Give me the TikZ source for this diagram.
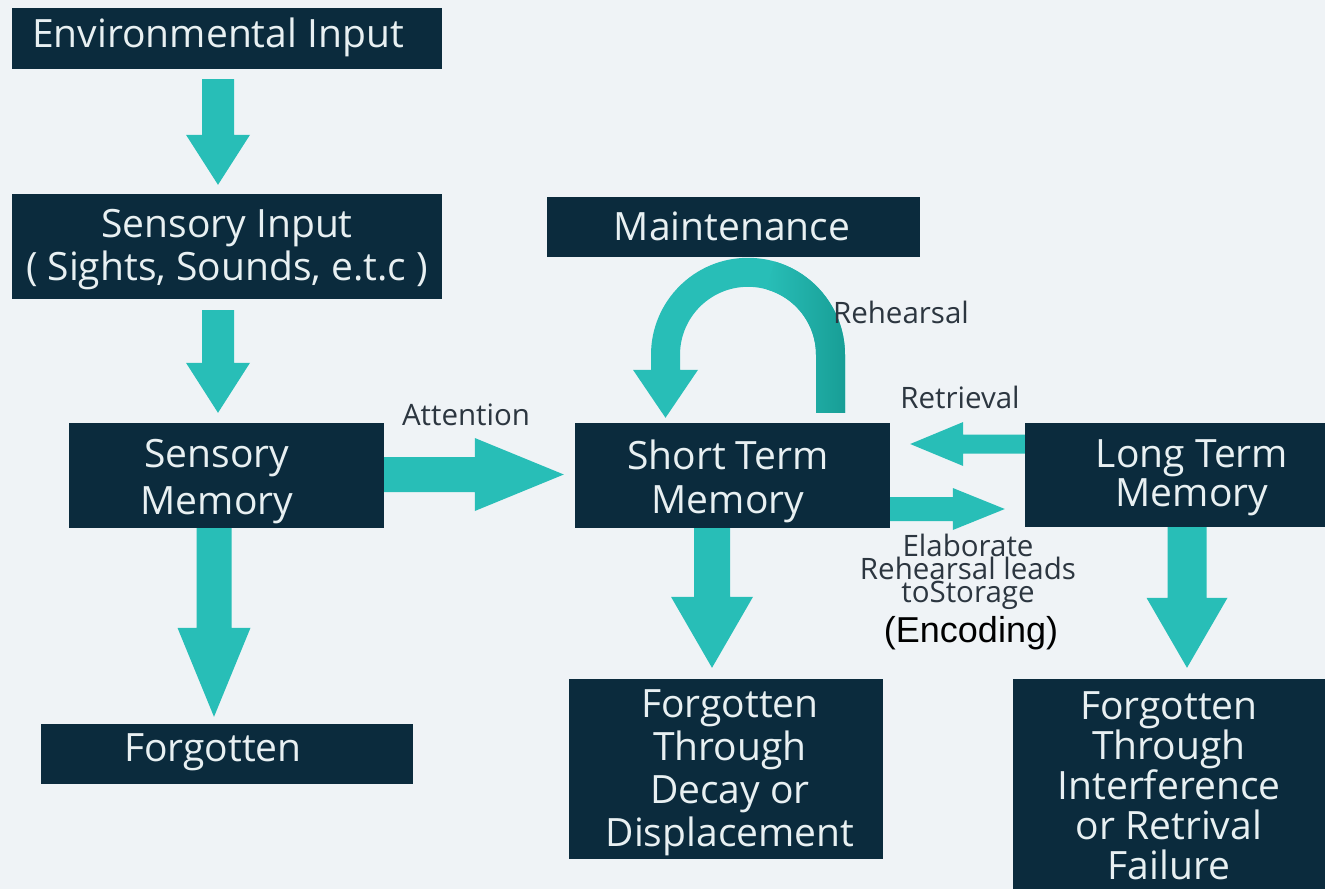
\documentclass[tikz,border=0pt]{standalone}
\usepackage{fontspec}
\setmainfont{Open Sans}
\newfontfamily\arialfont{Liberation Sans}
\usetikzlibrary{calc}

\definecolor{bgc}{RGB}{239,243,246}
\definecolor{navy}{RGB}{11,43,61}
\definecolor{teal1}{RGB}{40,190,183}
\definecolor{teal2}{RGB}{24,158,150}
\definecolor{boxtxt}{RGB}{232,240,242}
\definecolor{lbltxt}{RGB}{44,54,64}

% block arrow: start, tip, half shaft width, half head width, head length
\newcommand{\blockarrow}[5]{%
  \path (#1) coordinate (ba-s) (#2) coordinate (ba-t);
  \path ($(ba-t)!#5!(ba-s)$) coordinate (ba-h);
  \fill[teal1] ($(ba-s)!#3!90:(ba-t)$) -- ($(ba-h)!#3!90:(ba-t)$)
    -- ($(ba-h)!#4!90:(ba-t)$) -- (ba-t) -- ($(ba-h)!#4!-90:(ba-t)$)
    -- ($(ba-h)!#3!-90:(ba-t)$) -- ($(ba-s)!#3!-90:(ba-t)$) -- cycle;
}

\tikzset{
  box/.style={rectangle, fill=navy, inner sep=0pt},
  boxtext/.style={text=boxtxt, align=center, inner sep=0pt,
    font=\fontsize{39}{44}\selectfont},
  lbl/.style={text=lbltxt, align=center, inner sep=0pt,
    font=\fontsize{29.5}{23}\selectfont},
}

\begin{document}
\begin{tikzpicture}[x=1pt,y=-1pt]
\fill[bgc] (0,0) rectangle (1325,889);

% boxes
\node[box, minimum width=430, minimum height=61]  (env)   at (227,38.5) {};
\node[box, minimum width=430, minimum height=105] (sin)   at (227,246.5) {};
\node[box, minimum width=315, minimum height=105] (smem)  at (226.5,475.5) {};
\node[box, minimum width=372, minimum height=60]  (forg)  at (227,754) {};
\node[box, minimum width=373, minimum height=60]  (maint) at (733.5,227) {};
\node[box, minimum width=315, minimum height=105] (stm)   at (732.5,475.5) {};
\node[box, minimum width=300, minimum height=104] (ltm)   at (1175,475) {};
\node[box, minimum width=314, minimum height=180] (fdec)  at (726,769) {};
\node[box, minimum width=312, minimum height=210] (fint)  at (1169,784) {};

% box texts
\node[boxtext] (env-t)   at (218,37) {Environmental Input};
\node[boxtext, font=\fontsize{39}{43}\selectfont] (sin-t) at (227,250) {Sensory Input\\( Sights, Sounds, e.t.c )};
\node[boxtext, font=\fontsize{39}{47}\selectfont] (smem-t) at (217,482) {Sensory\\Memory};
\node[boxtext] (forg-t)  at (213,752) {Forgotten};
\node[boxtext] (maint-t) at (732,226) {Maintenance};
\node[boxtext] (stm-t)   at (728,481) {Short Term\\Memory};
\node[boxtext, font=\fontsize{39}{39}\selectfont] (ltm-t) at (1192,478) {Long Term\\Memory};
\node[boxtext, font=\fontsize{39}{43}\selectfont] (fdec-t) at (730,773) {Forgotten\\Through\\Decay or\\Displacement};
\node[boxtext, font=\fontsize{39}{40}\selectfont] (fint-t) at (1169,786) {Forgotten\\Through\\Interference\\or Retrival\\Failure};

% straight arrows
\blockarrow{$(env.south)+(-9,10)$}{$(sin.north)+(-9,-9)$}{16pt}{32pt}{50pt}
\blockarrow{$(sin.south)+(-9,11)$}{$(smem.north)+(-8.5,-10)$}{16pt}{32pt}{50pt}
\blockarrow{$(smem.south)+(-12.5,0)$}{$(forg.north)+(-13,-7)$}{17.5pt}{36.5pt}{89pt}
\blockarrow{$(smem.east)+(0,-1)$}{$(stm.west)+(-11,-1)$}{17.5pt}{36.5pt}{89pt}
\blockarrow{$(stm.south)+(-20.5,0)$}{$(fdec.north)+(-14,-11)$}{18pt}{41pt}{71pt}
\blockarrow{$(stm.east)+(0,33.5)$}{$(ltm.west)+(-20,34)$}{12pt}{21pt}{52pt}
\blockarrow{$(ltm.west)+(0,-31)$}{$(stm.east)+(20,-31.5)$}{9.5pt}{22pt}{53pt}
\blockarrow{$(ltm.south)+(12,0)$}{$(fint.north)+(18,-11)$}{19.5pt}{40.5pt}{70pt}

% rehearsal loop above short term memory
\coordinate (loopc) at ($(stm.north)+(15.5,-68)$);
\fill[teal1] ($(loopc)+(97,0)$) arc[start angle=0,end angle=-180,radius=97]
  -- ++(0,15) -- ++(-18,0) -- ++(32.5,48) -- ++(32.5,-48) -- ++(-18,0) -- ++(0,-15)
  arc[start angle=180,end angle=360,radius=68] -- ++(0,58) -- ++(29,0) -- cycle;
\shade[left color=teal1, right color=teal2]
  ($(loopc)+(-74:97)$) arc[start angle=-74,end angle=0,radius=97]
  -- ++(0,58) -- ++(-29,0) -- ++(0,-58)
  arc[start angle=0,end angle=-74,radius=68] -- cycle;

% labels
\node[lbl] (attn)  at (466,415) {Attention};
\node[lbl] (reh)   at (901,312) {Rehearsal};
\node[lbl] (retr)  at (960,397) {Retrieval};
\node[lbl] (elab)  at (968,572) {Elaborate\\Rehearsal leads\\toStorage};
\node[text=black, inner sep=0pt, font=\arialfont\fontsize{36}{40}\selectfont] (enc) at (971,633) {(Encoding)};
\end{tikzpicture}
\end{document}
